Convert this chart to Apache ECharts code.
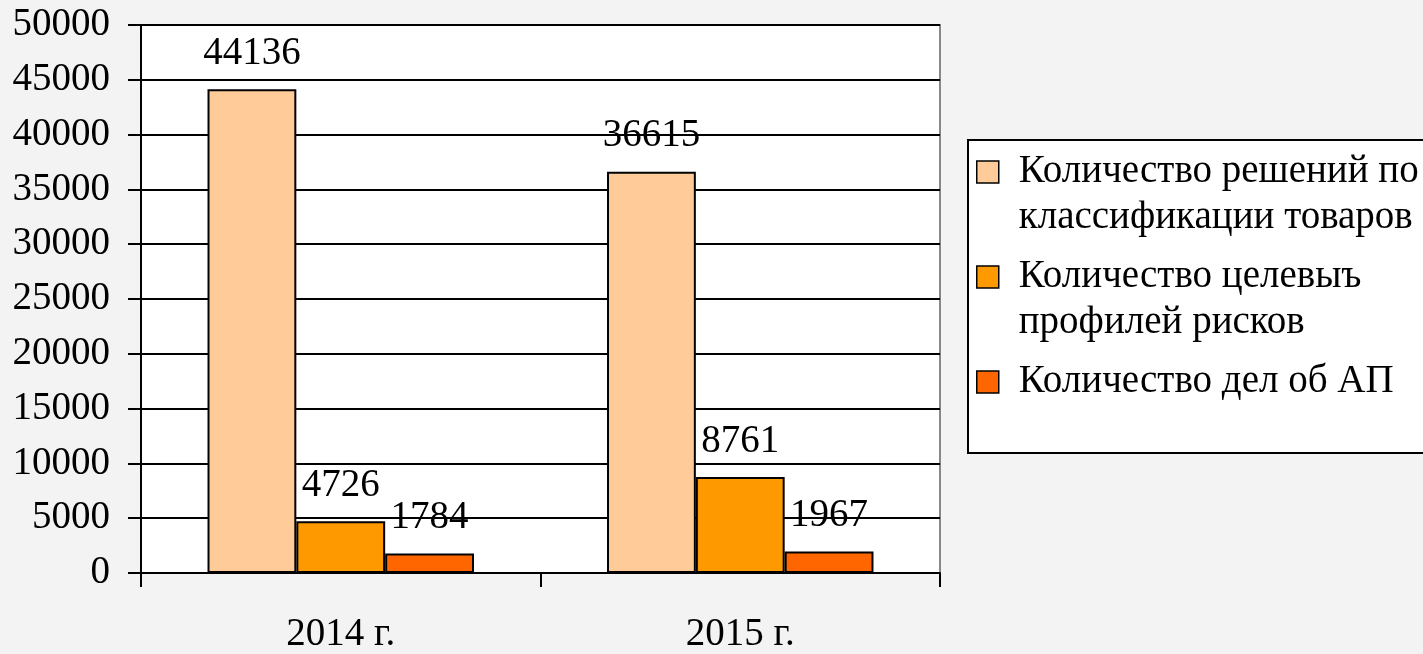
<!DOCTYPE html>
<html>
<head>
<meta charset="utf-8">
<script src="https://cdn.jsdelivr.net/npm/echarts@6/dist/echarts.min.js"></script>
<style>
html,body{margin:0;padding:0;background:#f3f3f3;}
#chart{width:1423px;height:654px;}
</style>
</head>
<body>
<div id="chart"></div>
<script>
// ---- data ----
const categories = ['2014 г.', '2015 г.'];
const seriesNames = [
  'Количество решений по классификации товаров',
  'Количество целевыъ профилей рисков',
  'Количество дел об АП'
];
const legendLabels = [
  'Количество решений по\nклассификации товаров',
  'Количество целевыъ\nпрофилей рисков',
  'Количество дел об АП'
];
const decisions = [44136, 36615];
const riskProfiles = [4726, 8761];
const cases = [1784, 1967];
const yTicks = { min: 0, max: 50000, interval: 5000 };

const colors = ['#FFCC99', '#FF9900', '#FF6600'];
const seriesValues = [decisions, riskProfiles, cases];
const FONT = '"Liberation Serif", "Times New Roman", serif';

// pad each legend label so the icon lines up with its first line
function legendText(name) {
  const t = legendLabels[seriesNames.indexOf(name)];
  return t.indexOf('\n') >= 0 ? '\n' + t : '\n' + t + '\n';
}

const chart = echarts.init(document.getElementById('chart'));
chart.setOption({
  backgroundColor: '#f3f3f3',
  animation: false,
  grid: {
    left: 141, right: 483, top: 25, bottom: 79,
    show: true, backgroundColor: '#ffffff', borderColor: '#888888', borderWidth: 2
  },
  legend: {
    orient: 'vertical',
    left: 968, top: 140,
    padding: [-37, 30, 2, 8],
    itemWidth: 22, itemHeight: 22,
    itemGap: -33,
    backgroundColor: '#ffffff',
    borderColor: '#000000', borderWidth: 2,
    icon: 'rect',
    itemStyle: { borderColor: '#000', borderWidth: 1.5 },
    textStyle: { fontFamily: FONT, fontSize: 39, color: '#000', lineHeight: 46, padding: [0, 0, 0, 15] },
    data: seriesNames,
    formatter: legendText
  },
  xAxis: {
    type: 'category',
    data: categories,
    axisLine: { show: true, lineStyle: { color: '#000', width: 2 } },
    axisTick: { show: true, length: 14, lineStyle: { color: '#000', width: 2 } },
    axisLabel: { margin: 42, fontFamily: FONT, fontSize: 39, color: '#000' },
    splitLine: { show: false }
  },
  yAxis: {
    type: 'value',
    min: yTicks.min, max: yTicks.max, interval: yTicks.interval,
    axisLine: { show: true, lineStyle: { color: '#000', width: 2 } },
    axisTick: { show: true, length: 13, lineStyle: { color: '#000', width: 2 } },
    axisLabel: {
      margin: 31, fontFamily: FONT, fontSize: 39, color: '#000',
      formatter: function (v) { return String(v); }
    },
    splitLine: { show: true, lineStyle: { color: '#000', width: 2 } }
  },
  series: seriesNames.map(function (name, i) {
    return {
      name: name,
      type: 'bar',
      data: seriesValues[i],
      barGap: '0%',
      barCategoryGap: '33.3%',
      itemStyle: { color: colors[i], borderColor: '#000', borderWidth: 2 },
      label: {
        show: true, position: 'top', distance: 16,
        fontFamily: FONT, fontSize: 39, color: '#000'
      }
    };
  })
});
</script>
</body>
</html>
